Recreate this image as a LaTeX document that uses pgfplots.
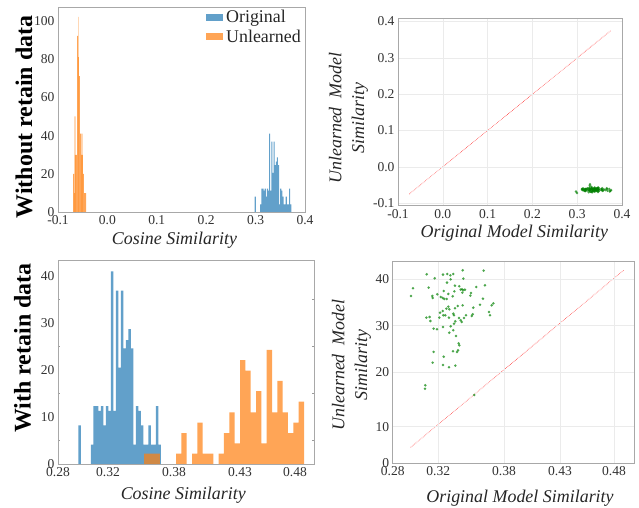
\documentclass[border=0pt]{standalone}
\usepackage{fontspec}
\setmainfont{Liberation Serif}
\usepackage{pgfplots}
\usepackage{pgfplotstable}
\pgfplotsset{compat=1.18}

\definecolor{tabblue}{HTML}{1F77B4}
\definecolor{taborange}{HTML}{FF7F0E}
\definecolor{ptgreen}{HTML}{008000}
\definecolor{framec}{HTML}{A8A8A8}
\definecolor{gridc}{HTML}{EBEBEB}
\definecolor{linered}{HTML}{FF4040}

\newcommand{\tickfont}{\fontsize{13.6}{14}\selectfont}
\newcommand{\labfont}{\fontsize{18}{23}\selectfont\itshape}
\newcommand{\rowfont}{\fontsize{24}{26}\selectfont\bfseries}

% original-model cosine similarity histogram (left bin edge, density)
\pgfplotstableread{
x h
0.2982 8.2
0.3004 0
0.3027 0
0.3049 0
0.3072 0
0.3094 4.1
0.3117 12.3
0.3139 12.3
0.3161 11.3
0.3184 12.3
0.3206 8.2
0.3229 12.3
0.3251 11.3
0.3273 41
0.3296 11.3
0.3318 36.9
0.3341 20.5
0.3363 36.9
0.3386 24.6
0.3408 26.4
0.3430 28.7
0.3453 24.6
0.3475 4.1
0.3498 12.3
0.3520 11.3
0.3543 8.2
0.3565 4.1
0.3587 4.1
0.3610 8.2
0.3632 4.1
0.3655 4.1
0.3677 12.3
0.3699 4.1
0.3722 0
}\origtab

% unlearned model, no retain data
\pgfplotstableread{
x h
-0.0696 20
-0.0676 10
-0.0656 30
-0.0636 30
-0.0615 92
-0.0595 81
-0.0575 71
-0.0555 41
-0.0534 30
-0.0514 30
-0.0494 20
-0.0474 10
-0.0453 10
-0.0433 0
}\unltab

\pgfplotstableread{
x h
-0.0696 0
-0.0676 50
-0.0656 50
-0.0636 0
-0.0615 0
-0.0595 102
-0.0575 0
-0.0555 0
-0.0534 41
-0.0514 41
-0.0494 0
-0.0474 0
}\unllight

% unlearned model, with retain data
\pgfplotstableread{
x h
0.3570 2.2
0.3618 2.2
0.3666 2.2
0.3713 0
0.3761 0
0.3809 0
0.3857 2.2
0.3904 6.6
0.3952 0
0.4000 2.2
0.4048 8.8
0.4095 2.2
0.4143 2.2
0.4191 0
0.4239 2.2
0.4286 6.6
0.4334 11
0.4382 4.4
0.4430 22.1
0.4477 19.9
0.4525 11
0.4573 15.5
0.4621 4.4
0.4668 24.3
0.4716 11
0.4764 17.7
0.4812 11
0.4859 6.6
0.4907 8.8
0.4955 13.3
0.5003 0
}\rettab

% scatter, no retain data
\pgfplotstableread{
x y
0.3123 -0.064
0.3199 -0.061
0.3278 -0.058
0.3319 -0.060
0.3348 -0.063
0.3376 -0.059
0.3351 -0.066
0.3316 -0.055
0.3465 -0.062
0.3471 -0.057
0.3665 -0.061
0.3677 -0.066
0.2993 -0.072
0.2974 -0.068
0.3142 -0.060
0.3177 -0.067
0.3180 -0.063
0.3224 -0.065
0.3285 -0.062
0.3256 -0.070
0.3275 -0.066
0.3291 -0.064
0.3313 -0.069
0.3329 -0.061
0.3370 -0.064
0.3392 -0.057
0.3386 -0.062
0.3433 -0.060
0.3446 -0.065
0.3459 -0.063
0.3471 -0.067
0.3487 -0.060
0.3462 -0.058
0.3544 -0.064
0.3538 -0.061
0.3595 -0.062
0.3658 -0.059
0.3741 -0.066
0.3757 -0.064
0.3715 -0.061
0.3725 -0.068
0.3630 -0.064
0.3566 -0.066
0.3465 -0.069
0.3418 -0.063
0.3392 -0.065
0.3329 -0.058
0.3338 -0.067
0.3310 -0.062
0.3275 -0.060
0.3250 -0.063
0.3281 -0.052
0.3300 -0.068
0.3243 -0.059
0.3151 -0.064
0.3120 -0.060
0.3158 -0.066
0.3335 -0.064
0.3376 -0.061
0.3383 -0.068
0.3430 -0.066
0.3446 -0.059
0.3478 -0.063
0.3497 -0.065
0.3551 -0.062
0.3560 -0.059
0.3456 -0.061
0.3395 -0.060
0.3383 -0.063
0.3351 -0.060
0.3278 -0.064
0.3189 -0.062
0.3221 -0.060
0.3376 -0.066
0.3338 -0.062
0.3402 -0.061
0.3427 -0.064
0.3433 -0.062
0.3421 -0.060
0.3411 -0.067
0.3373 -0.062
0.3189 -0.066
0.3285 -0.048
0.3180 -0.061
0.3278 -0.063
0.3335 -0.070
0.3395 -0.064
0.3110 -0.063
0.3107 -0.061
0.3576 -0.065
}\scatA

% scatter, with retain data
\pgfplotstableread{
x y
0.3123 40.64
0.3199 39.78
0.3278 40.57
0.3319 40.71
0.3348 40.42
0.3376 40.71
0.3351 39.56
0.3316 38.85
0.3465 41.50
0.3471 39.71
0.3665 41.43
0.3677 38.27
0.2993 37.63
0.2974 35.98
0.3142 37.77
0.3177 35.98
0.3180 35.55
0.3224 36.34
0.3285 37.05
0.3256 35.76
0.3275 35.55
0.3291 35.33
0.3313 35.33
0.3329 36.41
0.3370 35.91
0.3392 38.20
0.3386 36.98
0.3433 38.06
0.3446 37.34
0.3459 37.41
0.3471 37.20
0.3487 37.34
0.3462 36.70
0.3544 36.62
0.3538 36.05
0.3595 37.91
0.3658 35.40
0.3741 33.97
0.3757 34.40
0.3715 32.54
0.3725 31.82
0.3630 34.11
0.3566 33.47
0.3465 33.97
0.3418 33.83
0.3392 33.33
0.3329 33.68
0.3338 33.11
0.3310 33.25
0.3275 32.75
0.3250 32.39
0.3281 31.82
0.3300 31.82
0.3243 31.32
0.3151 31.46
0.3120 31.32
0.3158 30.60
0.3335 31.32
0.3376 32.18
0.3383 31.82
0.3430 31.25
0.3446 30.75
0.3478 31.25
0.3497 31.82
0.3551 31.68
0.3560 32.04
0.3456 30.39
0.3395 30.53
0.3383 30.03
0.3351 29.46
0.3278 29.31
0.3189 28.95
0.3221 28.81
0.3376 28.60
0.3338 28.09
0.3402 27.38
0.3427 25.80
0.3433 25.37
0.3421 24.29
0.3411 23.94
0.3373 24.08
0.3189 23.94
0.3285 22.93
0.3180 21.64
0.3278 21.14
0.3335 20.64
0.3395 21.00
0.3110 16.77
0.3107 16.05
0.3576 14.69
}\scatB

\pgfplotsset{
  panel/.style={
    scale only axis, anchor=south west, axis on top,
    axis line style={framec, line width=0.8bp},
    major tick length=0pt, minor tick length=0pt,
    tick label style={font=\tickfont, text=black!80},
  },
  gridded/.style={grid=major, major grid style={gridc, line width=0.6bp}},
  hist/.style={ybar interval, fill opacity=0.7, draw=none},
  dots/.style={only marks, color=ptgreen, mark=*, mark size=1.4bp,
    mark options={fill=ptgreen, fill opacity=0.7, draw opacity=0}},
  diag/.style={linered, densely dotted, line width=0.6bp},
}

\begin{document}
\begin{tikzpicture}
\path[use as bounding box] (0bp,0bp) rectangle (639bp,508bp);

% ---- top left: histogram without retain data
\begin{axis}[panel, at={(58bp,295.7bp)}, width=247bp, height=205.3bp,
  xmin=-0.1, xmax=0.4, ymin=0, ymax=107.1,
  xtick={-0.1,0,0.1,0.2,0.3,0.4},
  xticklabels={\mbox{-0.1},\mbox{0.0},\mbox{0.1},\mbox{0.2},\mbox{0.3},\mbox{0.4}},
  ytick={0,20,40,60,80,100},
  yticklabels={\mbox{0},\mbox{20},\mbox{40},\mbox{60},\mbox{80},\mbox{100}},
  legend style={at={(1,1)}, anchor=north east, draw=none, fill=none,
    font=\fontsize{18}{20}\selectfont, text=black!85, inner sep=1bp, row sep=1.5bp,
    nodes={inner xsep=3bp}},
  legend cell align=left,
  legend image code/.code={\fill[#1, draw=none] (0bp,-3.4bp) rectangle (16.7bp,3.4bp);},
]
\addplot[hist, fill=tabblue, forget plot] table {\origtab};
\addplot[ybar interval, fill=taborange, fill opacity=0.3, draw=none, forget plot] table {\unllight};
\addplot[ybar interval, fill=taborange, fill opacity=0.7, draw=none, forget plot] table {\unltab};
\addlegendimage{fill=tabblue, fill opacity=0.7, draw=none}
\addlegendentry{Original}
\addlegendimage{fill=taborange, fill opacity=0.7, draw=none}
\addlegendentry{Unlearned}
\end{axis}

% ---- top right: scatter without retain data
\begin{axis}[panel, gridded, at={(398bp,302.3bp)}, width=224bp, height=187.4bp,
  xmin=-0.1, xmax=0.4, ymin=-0.107, ymax=0.409,
  xtick={-0.1,0,0.1,0.2,0.3,0.4},
  xticklabels={\mbox{-0.1},\mbox{0.0},\mbox{0.1},\mbox{0.2},\mbox{0.3},\mbox{0.4}},
  ytick={-0.1,0,0.1,0.2,0.3,0.4},
  yticklabels={\mbox{-0.1},\mbox{0.0},\mbox{0.1},\mbox{0.2},\mbox{0.3},\mbox{0.4}},
]
\addplot[diag] coordinates {(-0.075,-0.075) (0.375,0.375)};
\addplot[dots] table {\scatA};
\end{axis}

% ---- bottom left: histogram with retain data
\begin{axis}[panel, at={(58bp,44bp)}, width=256bp, height=203.3bp,
  xmin=0.28, xmax=0.5092, ymin=0, ymax=43.3,
  xtick={0.28,0.3248,0.3839,0.4429,0.4922},
  xticklabels={\mbox{0.28},\mbox{0.32},\mbox{0.38},\mbox{0.43},\mbox{0.48}},
  ytick={0,10,20,30,40},
  yticklabels={\mbox{0},\mbox{10},\mbox{20},\mbox{30},\mbox{40}},
  minor ytick={5,15,25,35}, minor tick length=2bp,
  minor tick style={black!40, line width=0.5bp},
]
\addplot[hist, fill=tabblue] table {\origtab};
\addplot[hist, fill=taborange] table {\rettab};
\end{axis}

% ---- bottom right: scatter with retain data
\begin{axis}[panel, gridded, at={(392.7bp,44.7bp)}, width=241.3bp, height=201.6bp,
  xmin=0.28, xmax=0.5094, ymin=0, ymax=43.35,
  xtick={0.28,0.3233,0.3858,0.4390,0.4904},
  xticklabels={\mbox{0.28},\mbox{0.32},\mbox{0.38},\mbox{0.43},\mbox{0.48}},
  ytick={0,7.87,19.63,29.59,39.57},
  yticklabels={\mbox{0},\mbox{10},\mbox{20},\mbox{30},\mbox{40}},
]
\addplot[diag] coordinates {(0.2971,3.44) (0.4999,41.57)};
\addplot[dots] table {\scatB};
\end{axis}

% ---- labels
\node[rotate=90, font=\rowfont] at (24bp,391bp) {Without retain data};
\node[rotate=90, font=\rowfont] at (22.5bp,160bp) {With retain data};
\node[font=\labfont, text=black!85] at (174.5bp,268bp) {Cosine Similarity};
\node[font=\labfont, text=black!85] at (183.3bp,12.5bp) {Cosine Similarity};
\node[font=\labfont, text=black!85] at (514.3bp,274.5bp) {Original Model Similarity};
\node[font=\labfont, text=black!85] at (520bp,10bp) {Original Model Similarity};
\node[rotate=90, font=\labfont, text=black!85, align=center] at (348.5bp,390bp) {Unlearned~~Model\\Similarity};
\node[rotate=90, font=\labfont, text=black!85, align=center] at (351.5bp,143bp) {Unlearned~~Model\\Similarity};
\end{tikzpicture}
\end{document}
